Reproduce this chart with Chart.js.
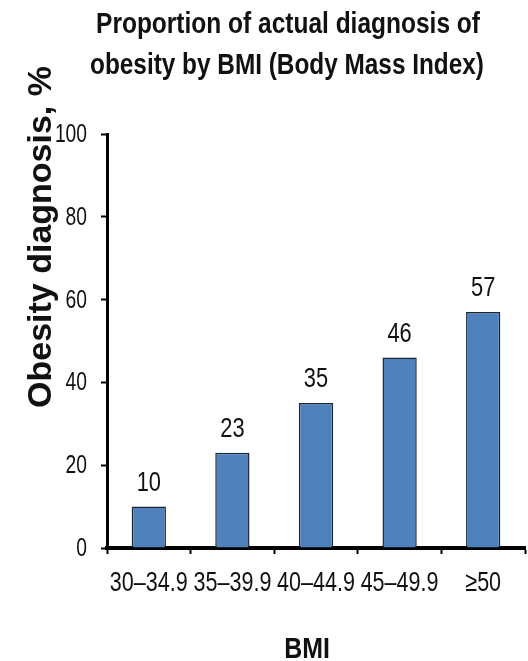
<!DOCTYPE html>
<html>
<head>
<meta charset="utf-8">
<script src="https://cdn.jsdelivr.net/npm/chart.js@4.4.1/dist/chart.umd.min.js"></script>
<style>
  html, body { margin: 0; padding: 0; background: #fff; }
  #wrap { width: 528px; height: 661px; position: relative; }
</style>
</head>
<body>
<div id="wrap"><canvas id="c" width="528" height="661"></canvas></div>
<script>
// BMI categories and share of patients with a recorded obesity diagnosis (%)
const bmiGroups = ['30–34.9', '35–39.9', '40–44.9', '45–49.9', '≥50'];
const diagnosisPct = [10, 23, 35, 46, 57];
const yTickValues = [0, 20, 40, 60, 80, 100];

const titleLines = ['Proportion of actual diagnosis of', 'obesity by BMI (Body Mass Index)'];
const yAxisTitle = 'Obesity diagnosis, %';
const xAxisTitle = 'BMI';

const SANS = '"Liberation Sans", Arial, Helvetica, sans-serif';
const INK = '#111';

// Draw text squeezed horizontally to imitate a condensed typeface
function condensedText(ctx, text, x, y, font, squeeze, align) {
  ctx.save();
  ctx.font = font;
  ctx.fillStyle = INK;
  ctx.textBaseline = 'alphabetic';
  ctx.textAlign = align || 'center';
  ctx.translate(x, y);
  ctx.scale(squeeze, 1);
  ctx.fillText(text, 0, 0);
  ctx.restore();
}

// Tick labels for both axes, positioned through the chart's own scales
const tickLabels = {
  id: 'tickLabels',
  afterDraw(chart) {
    const ctx = chart.ctx;
    const ys = chart.scales.y;
    ys.ticks.forEach(t => {
      const py = ys.getPixelForValue(t.value);
      condensedText(ctx, String(t.value), 87, py + 8, '26px ' + SANS, 0.74, 'right');
    });
    const xs = chart.scales.x;
    chart.data.labels.forEach((lab, i) => {
      const px = xs.getPixelForTick(i);
      condensedText(ctx, lab, px, 591, '28px ' + SANS, 0.77, 'center');
    });
  }
};

// Value labels above each bar, placed from the bar elements themselves
const valueLabels = {
  id: 'valueLabels',
  afterDatasetsDraw(chart) {
    const ctx = chart.ctx;
    const meta = chart.getDatasetMeta(0);
    meta.data.forEach((bar, i) => {
      condensedText(ctx, String(chart.data.datasets[0].data[i]), bar.x, bar.y - 16,
        '28px ' + SANS, 0.78, 'center');
    });
  }
};

// Chart heading and axis titles
const headings = {
  id: 'headings',
  afterDraw(chart) {
    const ctx = chart.ctx;
    condensedText(ctx, titleLines[0], 288, 33, 'bold 29px ' + SANS, 0.845, 'center');
    condensedText(ctx, titleLines[1], 287, 74, 'bold 29px ' + SANS, 0.84, 'center');
    condensedText(ctx, xAxisTitle, 307, 658, 'bold 30px ' + SANS, 0.83, 'center');

    ctx.save();
    ctx.fillStyle = INK;
    ctx.textAlign = 'center';
    ctx.textBaseline = 'alphabetic';
    ctx.translate(51, 237);
    ctx.rotate(-Math.PI / 2);
    ctx.font = 'bold 34px ' + SANS;
    ctx.fillText(yAxisTitle, 0, 0);
    ctx.restore();
  }
};

new Chart(document.getElementById('c'), {
  type: 'bar',
  data: {
    labels: bmiGroups,
    datasets: [{
      data: diagnosisPct,
      backgroundColor: '#4F81BD',
      borderColor: '#1c2533',
      borderWidth: 1.5,
      categoryPercentage: 1,
      barPercentage: 0.41
    }]
  },
  options: {
    responsive: false,
    animation: false,
    devicePixelRatio: 1,
    layout: { padding: { top: 134, right: 3, left: 0, bottom: 0 } },
    plugins: {
      legend: { display: false },
      title: { display: false },
      tooltip: { enabled: false }
    },
    scales: {
      y: {
        min: 0,
        max: 100,
        afterBuildTicks(scale) {
          scale.ticks = yTickValues.map(v => ({ value: v }));
        },
        afterFit(scale) { scale.width = 107; },
        ticks: { display: false },
        grid: {
          drawOnChartArea: false,
          drawTicks: true,
          tickLength: 6,
          tickWidth: 2,
          tickColor: '#000'
        },
        border: { display: true, color: '#000', width: 3 }
      },
      x: {
        offset: true,
        afterFit(scale) { scale.height = 113; },
        ticks: { display: false, autoSkip: false },
        grid: {
          offset: true,
          drawOnChartArea: false,
          drawTicks: true,
          tickLength: 6,
          tickWidth: 2,
          tickColor: '#000'
        },
        border: { display: true, color: '#000', width: 4 }
      }
    }
  },
  plugins: [valueLabels, tickLabels, headings]
});
</script>
</body>
</html>
